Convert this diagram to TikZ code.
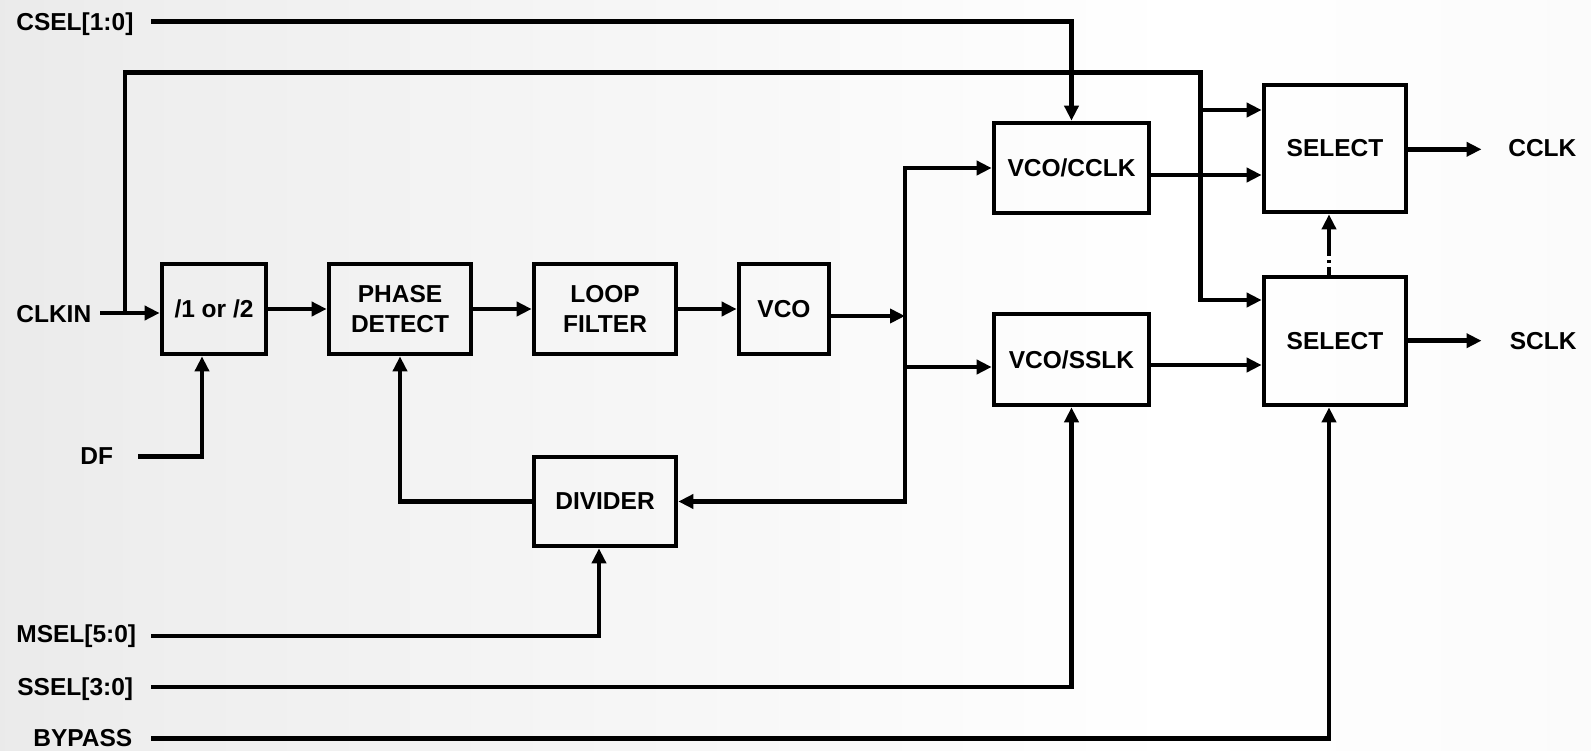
\documentclass[tikz,border=0pt]{standalone}
\usepackage{fontspec}
\setmainfont{Liberation Sans}
\usetikzlibrary{arrows.meta}
\newcommand\lblfont{\fontsize{24.5}{30}\selectfont\bfseries}
\pgfdeclarehorizontalshading{bgshade}{100bp}{color(0bp)=(gray!32); color(30bp)=(gray!13); color(62bp)=(white); color(100bp)=(gray!9)}
\begin{document}
\begin{tikzpicture}[x=1pt,y=-1pt,
  line width=4.7pt, line join=miter,
  box/.style={draw, line width=4.7pt, inner sep=0pt, align=center, font=\lblfont},
  lab/.style={inner sep=0pt, font=\lblfont, anchor=base west},
  arr/.style={-{Triangle[length=15pt,width=14pt]}}
]
\useasboundingbox (0,0) rectangle (1591,750);
\shade[shading=bgshade] (0,0) rectangle (1591,750);

% labels
\node[lab] (csel) at (14,30) {CSEL[1:0]};
\node[lab] (clkin) at (14,322.7) {CLKIN};
\node[lab] (df) at (78,464.5) {DF};
\node[lab] (msel) at (14,642.7) {MSEL[5:0]};
\node[lab] (ssel) at (15,695) {SSEL[3:0]};
\node[lab] (bypass) at (31,746) {BYPASS};
\node[lab] (cclk) at (1506,156.5) {CCLK};
\node[lab] (sclk) at (1507.5,349) {SCLK};

% boxes
\node[box, minimum width=104pt, minimum height=90pt] (div12) at (214,309) {/1 or /2};
\node[box, minimum width=142pt, minimum height=90pt] (phase) at (400,309) {PHASE\\DETECT};
\node[box, minimum width=142pt, minimum height=90pt] (loop) at (605,309) {LOOP\\FILTER};
\node[box, minimum width=90pt, minimum height=90pt] (vco) at (784,309) {VCO};
\node[box, minimum width=155pt, minimum height=90pt] (vcoc) at (1071.5,168) {VCO/CCLK};
\node[box, minimum width=155pt, minimum height=91pt] (vcos) at (1071.5,359.5) {VCO/SSLK};
\node[box, minimum width=142pt, minimum height=89pt] (divider) at (605,501.5) {DIVIDER};
\node[box, minimum width=142pt, minimum height=127pt] (sel1) at (1335,148.5) {SELECT};
\node[box, minimum width=142pt, minimum height=128pt] (sel2) at (1335,341) {SELECT};

% coordinates
\coordinate (cselS) at (151,21.7);
\coordinate (cselC) at (1071.5,21.7);
\coordinate (clkS) at (100,313);
\coordinate (clkJ) at (125,313);
\coordinate (topL) at (125,72.7);
\coordinate (topR) at (1200.7,72.7);
\coordinate (s1in) at (1200.7,110);
\coordinate (s2in) at (1200.7,300);
\coordinate (busT) at (905,168);
\coordinate (busM) at (905,316);
\coordinate (busS) at (905,367);
\coordinate (busB) at (905,501.5);
\coordinate (vcocO) at ([yshift=-7pt]vcoc.east);
\coordinate (vcosO) at ([yshift=-5.5pt]vcos.east);
\coordinate (cclkE) at (1481.5,149.3);
\coordinate (sclkE) at (1481.5,340.7);
\coordinate (dd) at (1329,0);
\coordinate (dfS) at (138,456.7);
\coordinate (dfC) at (202,456.7);
\coordinate (mS) at (151,636);
\coordinate (mC) at (599,636);
\coordinate (sS) at (151,687);
\coordinate (sC) at (1071.5,687);
\coordinate (bS) at (151,738.3);
\coordinate (bC) at (1329,738.3);
\coordinate (fbC) at (400,501.5);

% connectors
\draw[arr] (cselS) -- (cselC) -- (vcoc.north);
\draw[arr] (clkS) -- (div12.west |- clkS);
\draw[arr] (clkJ) -- (topL) -- (topR) -- (s2in) -- (sel2.west |- s2in);
\draw[arr] (s1in) -- (sel1.west |- s1in);
\draw[arr] (div12) -- (phase);
\draw[arr] (phase) -- (loop);
\draw[arr] (loop) -- (vco);
\draw[arr] (vco.east |- busM) -- (busM);
\draw[arr] (busM) -- (busT) -- (vcoc.west);
\draw[arr] (busM) -- (busB) -- (divider.east);
\draw[arr] (busS) -- (vcos.west |- busS);
\draw[arr] (vcocO) -- (vcocO -| sel1.west);
\draw[arr] (vcosO) -- (vcosO -| sel2.west);
\draw[arr] (sel1.east |- cclkE) -- (cclkE);
\draw[arr] (sel2.east |- sclkE) -- (sclkE);
\draw[arr, dash pattern=on 8pt off 4pt on 3pt off 4pt on 100pt off 1pt] (sel2.north -| dd) -- (sel1.south -| dd);
\draw[arr] (dfS) -- (dfC) -- (dfC |- div12.south);
\draw[arr] (mS) -- (mC) -- (mC |- divider.south);
\draw[arr] (sS) -- (sC) -- (vcos.south);
\draw[arr] (bS) -- (bC) -- (bC |- sel2.south);
\draw[arr] (divider.west) -- (fbC) -- (phase.south);
\end{tikzpicture}
\end{document}
